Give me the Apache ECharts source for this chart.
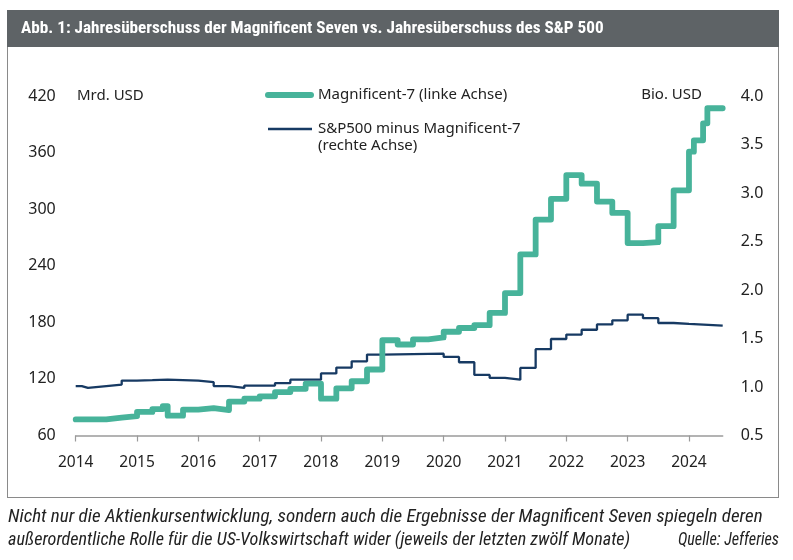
<!DOCTYPE html>
<html>
<head>
<meta charset="utf-8">
<script src="https://cdn.jsdelivr.net/npm/echarts@6/dist/echarts.min.js"></script>
<style>html,body{margin:0;padding:0;background:#fff;}#c{width:793px;height:560px;}</style>
</head>
<body>
<div id="c"></div>
<script>
// Magnificent-7 annual net income (bn USD, left axis)
const magTimes  = [2014.00,2014.25,2014.50,2014.75,2015.00,2015.25,2015.42,2015.50,2015.75,2016.00,2016.25,2016.50,2016.75,2017.00,2017.25,2017.50,2017.75,2018.00,2018.25,2018.50,2018.75,2019.00,2019.25,2019.50,2019.75,2020.00,2020.25,2020.50,2020.75,2021.00,2021.25,2021.50,2021.75,2022.00,2022.25,2022.50,2022.75,2023.00,2023.25,2023.50,2023.75,2024.00,2024.08,2024.23,2024.30,2024.55];
const magValues = [77,77,79,80.5,85,88,91,81,87.5,89,87,96,99,101.5,106,109.5,115,99,110,117.5,130,161,156.5,162,164,170,174,177,190,211,252,289,311,336,327,308,296,264,265,282,320,361,373,391,407,407];
// S&P500 minus Magnificent-7 (tn USD, right axis)
const spxTimes  = [2014.00,2014.10,2014.20,2014.50,2014.75,2015.00,2015.25,2015.50,2016.00,2016.25,2016.50,2016.75,2017.25,2017.50,2018.00,2018.25,2018.50,2018.75,2019.00,2020.00,2020.25,2020.50,2020.75,2021.00,2021.25,2021.50,2021.75,2022.00,2022.25,2022.50,2022.75,2023.00,2023.25,2023.50,2023.75,2024.00,2024.55];
const spxValues = [1.01,0.99,1.01,1.025,1.066,1.07,1.076,1.066,1.05,1.01,0.99,1.015,1.04,1.076,1.14,1.20,1.265,1.334,1.344,1.31,1.255,1.125,1.094,1.076,1.197,1.39,1.495,1.54,1.59,1.645,1.687,1.746,1.71,1.66,1.65,1.632,1.632];
const yearTicks = [2014,2015,2016,2017,2018,2019,2020,2021,2022,2023,2024];

const titleText = 'Abb. 1: Jahresüberschuss der Magnificent Seven vs. Jahresüberschuss des S&P 500';
const legendMag = 'Magnificent-7 (linke Achse)';
const legendSpx1 = 'S&P500 minus Magnificent-7';
const legendSpx2 = '(rechte Achse)';
const note1 = 'Nicht nur die Aktienkursentwicklung, sondern auch die Ergebnisse der Magnificent Seven spiegeln deren';
const note2 = 'außerordentliche Rolle für die US-Volkswirtschaft wider (jeweils der letzten zwölf Monate)';
const source = 'Quelle: Jefferies';

const GREEN = '#47b39a';
const NAVY = '#173a63';
const FONT = "'Noto Sans', 'Open Sans', sans-serif";
const NARROW = "'Liberation Sans Narrow', 'Roboto Condensed', 'Roboto', sans-serif";

const chart = echarts.init(document.getElementById('c'), null, {renderer: 'canvas'});
const zip = (t, v) => t.map((x, i) => [x, v[i]]);

chart.setOption({
  animation: false,
  backgroundColor: '#fff',
  grid: {left: 75.7, right: 70.3, top: 96, bottom: 124.5, containLabel: false},
  xAxis: {
    type: 'value', min: 2014, max: 2024.55,
    axisLine: {show: true, lineStyle: {color: '#9a9a9a', width: 1.5}},
    axisTick: {show: true, length: 6, lineStyle: {color: '#9a9a9a', width: 1.2}, customValues: yearTicks},
    axisLabel: {color: '#222', fontSize: 15.5, fontFamily: FONT, margin: 19, customValues: yearTicks,
      formatter: v => String(Math.round(v))},
    splitLine: {show: false}
  },
  yAxis: [
    {type: 'value', min: 60, max: 420, interval: 60, position: 'left',
      axisLine: {show: false}, axisTick: {show: false}, splitLine: {show: false},
      axisLabel: {color: '#222', fontSize: 16, fontFamily: FONT, margin: 20}},
    {type: 'value', min: 0.5, max: 4.0, interval: 0.5, position: 'right',
      axisLine: {show: false}, axisTick: {show: false}, splitLine: {show: false},
      axisLabel: {color: '#222', fontSize: 16, fontFamily: FONT, margin: 18, formatter: v => v.toFixed(1)}}
  ],
  series: [
    {name: legendSpx1, type: 'line', yAxisIndex: 1, step: 'end', showSymbol: false,
      data: zip(spxTimes, spxValues), lineStyle: {color: NAVY, width: 2.3}, z: 2},
    {name: legendMag, type: 'line', yAxisIndex: 0, step: 'end', showSymbol: false,
      data: zip(magTimes, magValues), lineStyle: {color: GREEN, width: 5.8, cap: 'round', join: 'round'}, z: 3}
  ],
  graphic: [
    {type: 'rect', shape: {x: 7, y: 10, width: 772, height: 37}, style: {fill: '#5e6366'}},
    {type: 'text', x: 21, y: 29, style: {text: titleText, fill: '#fff', font: "bold 17.2px " + NARROW, verticalAlign: 'middle'}},
    {type: 'line', shape: {x1: 7.5, y1: 47, x2: 7.5, y2: 497}, style: {stroke: '#8a8a8a', lineWidth: 1}},
    {type: 'line', shape: {x1: 778.5, y1: 47, x2: 778.5, y2: 497}, style: {stroke: '#8a8a8a', lineWidth: 1}},
    {type: 'line', shape: {x1: 7, y1: 497.5, x2: 779, y2: 497.5}, style: {stroke: '#8a8a8a', lineWidth: 1}},
    {type: 'text', x: 77, y: 96, style: {text: 'Mrd. USD', fill: '#222', font: '15px ' + FONT, verticalAlign: 'middle'}},
    {type: 'text', x: 702, y: 95, style: {text: 'Bio. USD', fill: '#222', font: '15px ' + FONT, align: 'right', verticalAlign: 'middle'}},
    {type: 'line', shape: {x1: 268, y1: 95, x2: 311, y2: 95}, style: {stroke: GREEN, lineWidth: 6, lineCap: 'round'}},
    {type: 'text', x: 318, y: 95, style: {text: legendMag, fill: '#222', font: '15px ' + FONT, verticalAlign: 'middle'}},
    {type: 'line', shape: {x1: 268, y1: 129, x2: 312, y2: 129}, style: {stroke: NAVY, lineWidth: 2.5}},
    {type: 'text', x: 318, y: 129, style: {text: legendSpx1, fill: '#222', font: '15px ' + FONT, verticalAlign: 'middle'}},
    {type: 'text', x: 318, y: 146, style: {text: legendSpx2, fill: '#222', font: '15px ' + FONT, verticalAlign: 'middle'}},
    {type: 'text', x: 8, y: 517, style: {text: note1, fill: '#222', font: 'italic 19px ' + NARROW, verticalAlign: 'middle'}},
    {type: 'text', x: 8, y: 540, scaleX: 0.955, style: {text: note2, fill: '#222', font: 'italic 19px ' + NARROW, verticalAlign: 'middle'}},
    {type: 'text', x: 779, y: 540, scaleX: 0.85, style: {text: source, fill: '#222', font: 'italic 19px ' + NARROW, align: 'right', verticalAlign: 'middle'}}
  ]
});
</script>
</body>
</html>
